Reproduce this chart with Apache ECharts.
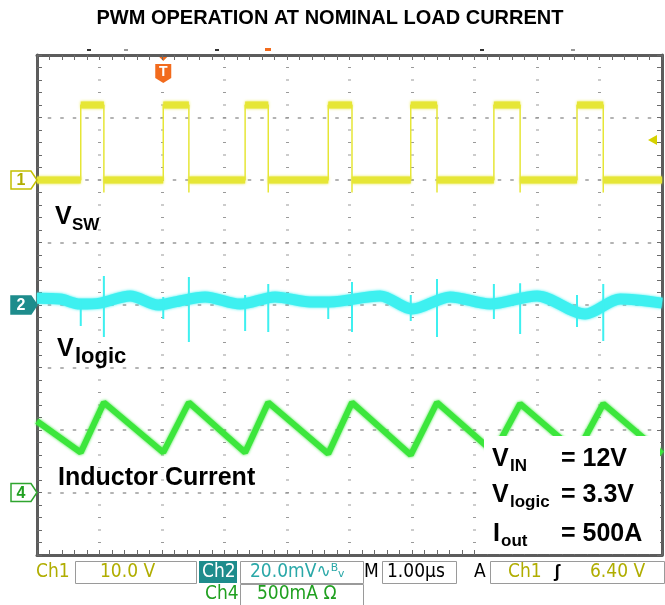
<!DOCTYPE html>
<html>
<head>
<meta charset="utf-8">
<title>PWM operation at nominal load current</title>
<script src="https://cdn.jsdelivr.net/npm/echarts@6/dist/echarts.min.js"></script>
<style>
  html, body { margin: 0; padding: 0; background: #fff; }
  #chart { width: 665px; height: 605px; }
</style>
</head>
<body>
<div id="chart"></div>
<script>
// scope settings
const timeSpan = [0, 10];          // µs, 1 µs/div
const ch1Scale = 10, ch1Pos = 6;   // V/div, ground marker (div from bottom)
const ch2Scale = 20, ch2Pos = 4;   // mV/div
const ch4Scale = 0.5, ch4Pos = 1;  // A/div
const trigTime = 2.02, trigLevel = 6.4;

// Ch1 - V_SW, edges (µs) and levels (V)
const vswRise = [0.70, 2.02, 3.33, 4.66, 5.98, 7.31, 8.64];
const vswFall = [1.07, 2.43, 3.70, 5.04, 6.40, 7.73, 9.06];
const vswHigh = 12, vswLow = 0, vswDip = -2;

// Ch2 - V_logic ripple (mV) and switching spikes
const vlogicTime = [0, 0.37, 0.69, 1.01, 1.49, 1.94, 2.21, 2.69, 3.25, 3.81, 4.37, 4.69, 5.49, 6.00, 6.61, 7.25, 8.00, 8.77, 9.33, 10];
const vlogicMv   = [2.2, 1.9, 0.3, 0.6, 2.9, 0.0, 1.0, 2.6, 0.3, 2.6, 1.0, 1.0, 2.9, -1.3, 2.6, 0.3, 2.9, -2.9, 1.9, 0.6];
const spikeTime = [0.70, 1.07, 2.02, 2.43, 3.33, 3.70, 4.66, 5.04, 5.98, 6.40, 7.31, 7.73, 8.64, 9.06];
const spikeHigh = [1.9, 9.3, 2.6, 9.0, 3.2, 6.7, 2.6, 7.4, 3.2, 8.3, 6.7, 7.0, 3.2, 6.7];
const spikeLow  = [-6.7, -10.2, -4.5, -11.8, -8.3, -8.6, -4.5, -8.6, -5.1, -10.2, -4.5, -9.3, -7.0, -11.5];

// Ch4 - inductor current (A)
const ilTime = [0, 0.70, 1.07, 2.02, 2.43, 3.33, 3.70, 4.66, 5.04, 5.98, 6.40, 7.31, 7.73, 8.64, 9.06, 10];
const ilAmp  = [0.57, 0.32, 0.72, 0.32, 0.72, 0.32, 0.72, 0.31, 0.72, 0.30, 0.72, 0.32, 0.71, 0.32, 0.71, 0.31];

// text
const title = 'PWM OPERATION AT NOMINAL LOAD CURRENT';
const notes = [['V', 'IN', '= 12V'], ['V', 'logic', '= 3.3V'], ['I', 'out', '= 500A']];

const FONT = '"Liberation Sans", Arial, sans-serif';
const NARROW = '"Liberation Sans Narrow", "DejaVu Sans Condensed", sans-serif';
const YEL = '#e6e636', CYAN = '#3ef0f0', GRN = '#3ce63c';
const OLIVE = '#b0ad00', TEAL = '#1e8c8c', TEALTXT = '#2aa8a8', GTXT = '#20a020', ORANGE = '#f26b1d';

// build traces
const gap = t => [t, '-'];
const vswTrace = [[timeSpan[0], vswLow]];
const vswBand = [];
let t0 = timeSpan[0];
vswRise.forEach((r, i) => {
  const f = vswFall[i];
  vswTrace.push([r, vswLow], [r, vswHigh], [f, vswHigh], [f, vswDip], [f, vswLow]);
  vswBand.push([t0, vswLow], [r, vswLow], gap(r), [r, vswHigh], [f, vswHigh], gap(f));
  t0 = f;
});
vswTrace.push([timeSpan[1], vswLow]);
vswBand.push([t0, vswLow], [timeSpan[1], vswLow]);

const vlogic = vlogicTime.map((t, i) => [t, vlogicMv[i]]);
const spikes = [];
spikeTime.forEach((t, i) => spikes.push([t, spikeHigh[i]], [t, spikeLow[i]], gap(t)));
const il = ilTime.map((t, i) => [t, ilAmp[i]]);

const chAxis = (scale, pos) => ({
  type: 'value', min: -pos * scale, max: (8 - pos) * scale, show: false
});
const frameLine = { show: true, onZero: false, lineStyle: { color: '#5c5c5c', width: 3 } };
const frameTick = { show: true, inside: true, length: 5, lineStyle: { color: '#6a6a6a' } };
const frameMinor = { show: true, splitNumber: 5, length: 5, lineStyle: { color: '#6a6a6a' } };
const fuzz = c => ({ shadowBlur: 3, shadowColor: c });

const chart = echarts.init(document.getElementById('chart'));
chart.setOption({
  animation: false,
  backgroundColor: '#fff',
  grid: { left: 37, right: 3, top: 55, bottom: 50 },
  xAxis: [
    { type: 'value', min: timeSpan[0], max: timeSpan[1], interval: 1, position: 'bottom',
      axisLine: frameLine, axisTick: frameTick, minorTick: frameMinor, axisLabel: { show: false },
      splitLine: { show: true, lineStyle: { color: '#9a9a9a', width: 3, type: [1.2, 11.3], dashOffset: 0.6 } } },
    { type: 'value', min: timeSpan[0], max: timeSpan[1], interval: 1, position: 'top',
      axisLine: frameLine, axisTick: frameTick, minorTick: frameMinor, axisLabel: { show: false },
      splitLine: { show: false } }
  ],
  yAxis: [
    { type: 'value', min: 0, max: 8, interval: 1, position: 'left',
      axisLine: frameLine, axisTick: frameTick, minorTick: frameMinor, axisLabel: { show: false },
      splitLine: { show: true, lineStyle: { color: '#9a9a9a', width: 1.5, type: [3.5, 9], dashOffset: 1.75 } } },
    { type: 'value', min: 0, max: 8, interval: 1, position: 'right',
      axisLine: frameLine, axisTick: frameTick, minorTick: frameMinor, axisLabel: { show: false },
      splitLine: { show: false } },
    chAxis(ch1Scale, ch1Pos),
    chAxis(ch2Scale, ch2Pos),
    chAxis(ch4Scale, ch4Pos)
  ],
  series: [
    { name: 'Vsw noise', type: 'line', yAxisIndex: 2, data: vswBand, showSymbol: false, silent: true,
      lineStyle: Object.assign({ color: YEL, width: 7 }, fuzz(YEL)) },
    { name: 'Vsw', type: 'line', yAxisIndex: 2, data: vswTrace, showSymbol: false, silent: true,
      lineStyle: { color: YEL, width: 1.5 } },
    { name: 'Vlogic', type: 'line', yAxisIndex: 3, data: vlogic, showSymbol: false, silent: true, smooth: 0.3,
      lineStyle: Object.assign({ color: CYAN, width: 11 }, fuzz(CYAN)) },
    { name: 'Vlogic spikes', type: 'line', yAxisIndex: 3, data: spikes, showSymbol: false, silent: true,
      lineStyle: { color: CYAN, width: 2 } },
    { name: 'Inductor current', type: 'line', yAxisIndex: 4, data: il, showSymbol: false, silent: true,
      lineStyle: Object.assign({ color: GRN, width: 6 }, fuzz(GRN)) }
  ]
});

// decorations placed through the axes
const px = t => chart.convertToPixel({ xAxisIndex: 0 }, t);
const py = (axis, v) => chart.convertToPixel({ yAxisIndex: axis }, v);

function text(x, y, s, font, fill, align) {
  return { type: 'text', x: x, y: y, z: 30,
    style: { text: s, font: font, fill: fill, align: align || 'left', verticalAlign: 'middle',
             textAlign: align || 'left', textVerticalAlign: 'middle' } };
}
function marker(num, y, stroke, fill, color) {
  return { type: 'group', x: 0, y: y, z: 30, children: [
    { type: 'polygon', z: 30, shape: { points: [[11, -9], [31, -9], [37, 0], [31, 9], [11, 9]] },
      style: { fill: fill, stroke: stroke, lineWidth: 1.5 } },
    text(21, 1, num, 'bold 16px ' + FONT, color, 'center')
  ] };
}
function box(x, y, w, h) {
  return { type: 'rect', z: 20, shape: { x: x + 0.5, y: y + 0.5, width: w, height: h },
    style: { fill: '#fff', stroke: '#9a9a9a', lineWidth: 1 } };
}

const tx = px(trigTime);
const big = 'bold 25px ' + FONT, sub = 'bold 17px ' + FONT, st = '19px ' + NARROW;
const graphic = [
  text(330, 18, title, 'bold 20px ' + FONT, '#000', 'center'),
  marker('1', py(2, 0), '#c4c000', '#fff', OLIVE),
  marker('2', py(3, 0), TEAL, TEAL, '#fff'),
  marker('4', py(4, 0), '#2fa52f', '#fff', GTXT),
  // trigger position and level
  { type: 'group', x: tx, y: 55, z: 30, children: [
    { type: 'polygon', shape: { points: [[-6, 0], [6, 0], [0, 6]] }, style: { fill: ORANGE } },
    { type: 'polygon', shape: { points: [[-8, 9], [8, 9], [8, 23], [0, 28], [-8, 23]] }, style: { fill: ORANGE } },
    text(0, 17, 'T', 'bold 14px ' + FONT, '#fff', 'center')
  ] },
  { type: 'polygon', z: 30, shape: { points: [[648, py(2, trigLevel)], [657, py(2, trigLevel) - 5], [657, py(2, trigLevel) + 5]] },
    style: { fill: '#d6d200' } },
  { type: 'rect', z: 30, shape: { x: 265, y: 48, width: 6, height: 3 }, style: { fill: ORANGE } },
  { type: 'rect', z: 30, shape: { x: 87, y: 49, width: 4, height: 2 }, style: { fill: '#333' } },
  { type: 'rect', z: 30, shape: { x: 124, y: 49, width: 4, height: 2 }, style: { fill: '#999' } },
  { type: 'rect', z: 30, shape: { x: 215, y: 49, width: 4, height: 2 }, style: { fill: '#333' } },
  { type: 'rect', z: 30, shape: { x: 480, y: 49, width: 4, height: 2 }, style: { fill: '#333' } },
  { type: 'rect', z: 30, shape: { x: 571, y: 49, width: 4, height: 2 }, style: { fill: '#999' } },
  // trace labels
  text(55, 217, 'V', big, '#000'), text(72, 225, 'SW', sub, '#000'),
  text(57, 349, 'V', big, '#000'), text(75, 357, 'logic', 'bold 22px ' + FONT, '#000'),
  text(58, 478, 'Inductor Current', big, '#000'),
  // conditions box
  { type: 'rect', z: 25, shape: { x: 484, y: 436, width: 176, height: 118 }, style: { fill: '#fff' } },
  text(492, 459, notes[0][0], big, '#000'), text(510, 466, notes[0][1], sub, '#000'), text(561, 459, notes[0][2], big, '#000'),
  text(492, 495, notes[1][0], big, '#000'), text(510, 502, notes[1][1], sub, '#000'), text(561, 495, notes[1][2], big, '#000'),
  text(493, 534, notes[2][0], big, '#000'), text(501, 541, notes[2][1], sub, '#000'), text(561, 534, notes[2][2], big, '#000'),
  // status bar
  text(36, 572, 'Ch1', st, OLIVE),
  box(75, 561, 121, 22), text(100, 572, '10.0 V', st, OLIVE),
  { type: 'rect', z: 20, shape: { x: 199, y: 561, width: 38, height: 22 }, style: { fill: TEAL } },
  text(202, 572, 'Ch2', st, '#fff'),
  box(240, 561, 123, 22), text(250, 572, '20.0mV\u223F\u1D2E\u1D65', st, TEALTXT),
  text(364, 572, 'M', st, '#000'),
  box(382, 561, 74, 22), text(387, 572, '1.00\u00B5s', st, '#000'),
  text(474, 572, 'A', st, '#000'),
  box(490, 561, 174, 22), text(508, 572, 'Ch1', st, OLIVE), text(554, 572, '\u0283', 'bold 18px ' + FONT, '#000'),
  text(590, 572, '6.40 V', st, OLIVE),
  text(205, 594, 'Ch4', st, GTXT),
  box(240, 584, 123, 21), text(257, 594, '500mA \u03A9', st, GTXT)
];
chart.setOption({ graphic: graphic });
</script>
</body>
</html>
